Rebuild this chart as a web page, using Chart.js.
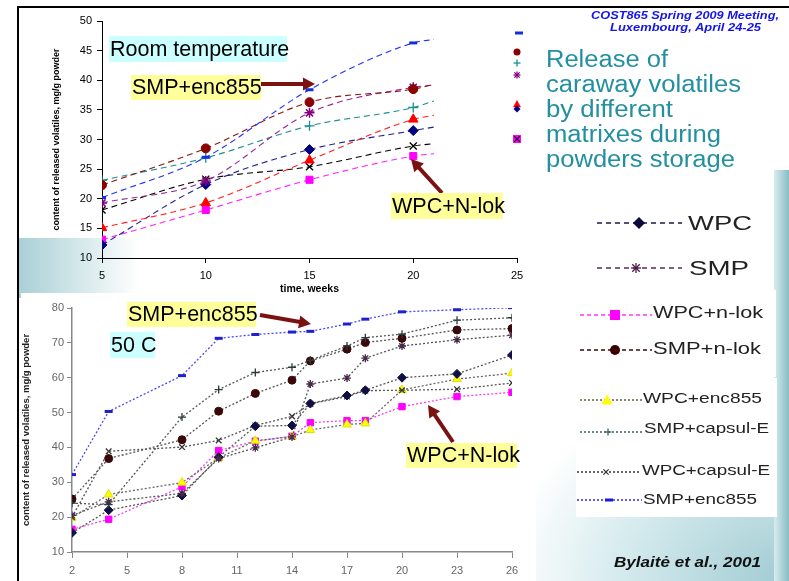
<!DOCTYPE html>
<html>
<head>
<meta charset="utf-8">
<script src="https://cdn.jsdelivr.net/npm/chart.js@4.4.0/dist/chart.umd.min.js"></script>
<style>
  body { margin: 0; width: 789px; height: 581px; position: relative; overflow: hidden; background: #fff;
         font-family: Arial, "Liberation Sans", sans-serif; }
  .abs { position: absolute; }
  .t { position: absolute; white-space: nowrap; transform-origin: 0 50%; }
  .box { position: absolute; white-space: nowrap; color: #000; font-size: 21.5px; padding-left: 1px; box-sizing: border-box; }
</style>
</head>
<body>
<!-- slide background bits -->
<div class="abs" style="left:19px;top:238px;width:120px;height:60px;background:linear-gradient(to right,#a9d0d5,rgba(255,255,255,0))"></div>
<div class="abs" style="left:520px;top:380px;width:269px;height:201px;background:radial-gradient(ellipse at 100% 100%,#9fcbd2 0%,#d6ebee 45%,rgba(255,255,255,0) 75%)"></div>
<div class="abs" style="left:774px;top:170px;width:15px;height:411px;background:linear-gradient(to right,#d8ecee,#86bcc4)"></div>
<div class="abs" style="left:576px;top:290px;width:200px;height:87px;background:#fff"></div>
<div class="abs" style="left:576px;top:378px;width:201px;height:139px;background:#fff"></div>

<div class="abs" style="left:21px;top:0;"><canvas id="roomChart" width="515" height="300"></canvas></div>
<div class="abs" style="left:21px;top:293px;background:#fff;"><canvas id="hotChart" width="515" height="288"></canvas></div>

<div class="abs" style="left:17px;top:6px;width:772px;height:2.3px;background:#000"></div>
<div class="abs" style="left:16.7px;top:6px;width:2.3px;height:575px;background:#000"></div>

<svg id="ov" class="abs" style="left:0;top:0" width="789" height="581"></svg>

<div class="box" style="left:109px;top:36px;width:178px;height:26px;line-height:26px;background:#ccffff">Room temperature</div>
<div class="box" style="left:131px;top:75px;width:130px;height:25px;line-height:25px;background:#ffff99">SMP+enc855</div>
<div class="box" style="left:391px;top:193px;width:112px;height:26px;line-height:26px;background:#ffff99">WPC+N-lok</div>
<div class="box" style="left:127px;top:302px;width:129px;height:25px;line-height:25px;background:#ffff99">SMP+enc855</div>
<div class="box" style="left:110px;top:332px;width:45px;height:26px;line-height:26px;background:#ccffff">50 C</div>
<div class="box" style="left:406px;top:443px;width:111px;height:25px;line-height:25px;background:#ffff99">WPC+N-lok</div>

<div id="texts"></div>

<script>
// ---- data ----
// room temperature; the last week is where the smoothed trend lines stop
const roomWeeks   = [5, 10, 15, 20, 21];
const roomSMPenc  = [20.2, 27.0, 38.4, 46.3, 46.9];
const roomSMPnlok = [22.3, 28.5, 36.3, 38.5, 39.3];
const roomSMPcaps = [23.1, 26.9, 32.3, 35.4, 36.5];
const roomSMP     = [19.3, 23.0, 34.5, 38.8, 39.2];
const roomWPCenc  = [15.1, 19.3, 26.5, 33.4, 34.1];
const roomWPC     = [12.2, 22.4, 28.3, 31.5, 32.1];
const roomWPCcaps = [18.1, 23.3, 25.4, 28.9, 29.3];
const roomWPCnlok = [13.1, 18.1, 23.2, 27.2, 27.6];
const roomXTicks  = [5, 10, 15, 20, 25];
const roomYTicks  = [10, 15, 20, 25, 30, 35, 40, 45, 50];

// 50 C
const hotWeeks   = [2, 4, 8, 10, 12, 14, 15, 17, 18, 20, 23, 26];
const hotSMPenc  = [32.2, 50.3, 60.6, 71.3, 72.4, 73.1, 73.3, 75.4, 76.8, 78.9, 79.5, 80.1];
const hotSMPcaps = [24.0, 23.6, 48.7, 56.6, 61.5, 63.0, 65.0, 69.1, 71.5, 72.5, 76.5, 77.2];
const hotSMPnlok = [25.2, 36.8, 42.2, 50.4, 55.5, 59.3, 64.8, 68.2, 70.1, 71.3, 73.7, 74.1];
const hotSMP     = [20.5, 24.4, 26.8, 36.8, 39.9, 43.0, 58.2, 59.9, 65.6, 69.1, 70.9, 72.2];
const hotWPCcaps = [20.0, 38.9, 40.1, 42.0, 46.3, 48.9, 52.5, 54.6, 56.3, 56.4, 56.7, 58.5];
const hotWPC     = [15.5, 22.0, 26.2, 37.2, 46.1, 46.3, 52.6, 54.9, 56.4, 60.0, 61.1, 66.5];
const hotWPCnlok = [16.5, 19.4, 28.7, 39.1, 41.8, 43.2, 47.1, 47.7, 47.7, 51.7, 54.6, 55.8];
const hotWPCenc  = [19.8, 26.5, 29.9, 37.0, 41.9, 43.1, 45.0, 46.6, 46.9, 56.5, 59.6, 61.3];
const hotXTicks  = [2, 5, 8, 11, 14, 17, 20, 23, 26];
const hotYTicks  = [10, 20, 30, 40, 50, 60, 70, 80];

Chart.defaults.font.family = 'Arial, "Liberation Sans", sans-serif';
Chart.defaults.animation = false;

function series(label, weeks, values, o) {
  return {
    label,
    data: weeks.map((w, i) => ({ x: w, y: values[i] })),
    borderColor: o.line,
    borderWidth: o.lw,
    borderDash: o.dash,
    pointStyle: o.shape,
    pointRadius: o.r,
    pointBorderColor: o.mark,
    pointBackgroundColor: o.fill || o.mark,
    pointBorderWidth: o.bw || 1,
    cubicInterpolationMode: o.smooth ? 'monotone' : 'default',
    tension: 0,
    fill: false
  };
}

// room temperature chart
const roomR = r => roomWeeks.map(w => (w > 20 ? 0 : r));
const rd = { lw: 1.1, dash: [6, 4], smooth: true };
new Chart(document.getElementById('roomChart').getContext('2d'), {
  type: 'line',
  data: {
    datasets: [
      series('SMP+enc855', roomWeeks, roomSMPenc, { ...rd, line: '#2030ff', mark: '#1030e0', shape: 'line', r: roomR(4), bw: 3 }),
      series('SMP+n-lok', roomWeeks, roomSMPnlok, { ...rd, line: '#8b1515', mark: '#8b0000', shape: 'circle', r: roomR(4.5) }),
      series('SMP', roomWeeks, roomSMP, { ...rd, line: '#952595', mark: '#800080', shape: 'star', r: roomR(5), bw: 1.5 }),
      series('SMP+capsul-E', roomWeeks, roomSMPcaps, { ...rd, line: '#1a9090', mark: '#1a9090', shape: 'cross', r: roomR(5), bw: 1.3 }),
      series('WPC+enc855', roomWeeks, roomWPCenc, { ...rd, line: '#ff2020', mark: '#ff0000', shape: 'triangle', r: roomR(5.5) }),
      series('WPC', roomWeeks, roomWPC, { ...rd, line: '#202095', mark: '#000080', shape: 'rectRot', r: roomR(5) }),
      series('WPC+capsul-E', roomWeeks, roomWPCcaps, { ...rd, line: '#000', mark: '#000', shape: 'crossRot', r: roomR(5), bw: 1.3 }),
      series('WPC+n-lok', roomWeeks, roomWPCnlok, { ...rd, line: '#ff20ff', mark: '#ff00ff', shape: 'rect', r: roomR(5) })
    ]
  },
  options: {
    responsive: false,
    layout: { padding: { top: 21, right: 19, left: 0, bottom: 0 } },
    plugins: { legend: { display: false }, tooltip: { enabled: false } },
    scales: {
      x: {
        type: 'linear', min: 5, max: 25,
        afterBuildTicks: s => { s.ticks = roomXTicks.map(v => ({ value: v })); },
        afterFit: s => { s.height = 42; },
        ticks: { color: '#000', font: { size: 11 }, padding: 6 },
        grid: { drawOnChartArea: false, tickLength: 5, color: '#000' },
        border: { color: '#000' },
        title: { display: true, text: 'time, weeks', color: '#000', font: { size: 10.5, weight: 'bold' }, padding: { top: 0, bottom: 5 } }
      },
      y: {
        min: 10, max: 50,
        afterBuildTicks: s => { s.ticks = roomYTicks.map(v => ({ value: v })); },
        afterFit: s => { s.width = 81; },
        ticks: { color: '#000', font: { size: 11 }, padding: 5 },
        grid: { drawOnChartArea: false, tickLength: 5, color: '#000' },
        border: { color: '#000' },
        title: { display: true, text: 'content of released volatiles, mg/g powder', color: '#000', font: { size: 9, weight: 'bold' }, padding: { top: 30, bottom: 0 } }
      }
    }
  }
});

// 50 C chart
const hd = { lw: 1.3, dash: [2, 2], line: '#555' };
new Chart(document.getElementById('hotChart').getContext('2d'), {
  type: 'line',
  data: {
    datasets: [
      series('SMP+enc855', hotWeeks, hotSMPenc, { ...hd, line: '#4b4bf0', mark: '#2020d0', shape: 'line', r: 4, bw: 3 }),
      series('SMP+capsul-E', hotWeeks, hotSMPcaps, { ...hd, mark: '#2a3a3a', shape: 'cross', r: 4, bw: 1.3 }),
      series('SMP+n-lok', hotWeeks, hotSMPnlok, { ...hd, mark: '#3a0808', shape: 'circle', r: 4 }),
      series('SMP', hotWeeks, hotSMP, { ...hd, mark: '#4a2a4a', shape: 'star', r: 4, bw: 1.3 }),
      series('WPC', hotWeeks, hotWPC, { ...hd, mark: '#101040', shape: 'rectRot', r: 4.5 }),
      series('WPC+capsul-E', hotWeeks, hotWPCcaps, { ...hd, mark: '#333', shape: 'crossRot', r: 4, bw: 1.3 }),
      series('WPC+enc855', hotWeeks, hotWPCenc, { ...hd, line: '#666', mark: '#e0e000', fill: '#ffff00', shape: 'triangle', r: 5 }),
      series('WPC+n-lok', hotWeeks, hotWPCnlok, { ...hd, line: '#f040f0', mark: '#ff00ff', shape: 'rect', r: 4.5 })
    ]
  },
  options: {
    responsive: false,
    layout: { padding: { top: 15, right: 24, left: 0, bottom: 0 } },
    plugins: { legend: { display: false }, tooltip: { enabled: false } },
    scales: {
      x: {
        type: 'linear', min: 2, max: 26,
        afterBuildTicks: s => { s.ticks = hotXTicks.map(v => ({ value: v })); },
        afterFit: s => { s.height = 29; },
        ticks: { color: '#666', font: { size: 11 }, padding: 6 },
        grid: { drawOnChartArea: false, tickLength: 6, color: '#888' },
        border: { color: '#888', width: 1.5 }
      },
      y: {
        min: 10, max: 80,
        afterBuildTicks: s => { s.ticks = hotYTicks.map(v => ({ value: v })); },
        afterFit: s => { s.width = 51; },
        ticks: { color: '#666', font: { size: 11 }, padding: 3 },
        grid: { drawOnChartArea: false, tickLength: 5, color: '#888' },
        border: { color: '#888', width: 1.5 },
        title: { display: true, text: 'content of released volatiles, mg/g powder', color: '#222', font: { size: 9.5, weight: 'bold' }, padding: { top: 0, bottom: 0 } }
      }
    }
  }
});

// ---- overlay: arrows, legend samples ----
const NS = 'http://www.w3.org/2000/svg';
const ov = document.getElementById('ov');
function el(tag, attrs) {
  const e = document.createElementNS(NS, tag);
  for (const k in attrs) e.setAttribute(k, attrs[k]);
  ov.appendChild(e);
  return e;
}
function arrow(x1, y1, x2, y2) {
  const dx = x2 - x1, dy = y2 - y1, len = Math.hypot(dx, dy), ux = dx / len, uy = dy / len;
  const head = 12, half = 6.5;
  const bx = x2 - ux * head, by = y2 - uy * head;
  el('line', { x1, y1, x2: bx + ux, y2: by + uy, stroke: '#7a1212', 'stroke-width': 4 });
  el('polygon', { points: `${x2},${y2} ${bx - uy * half},${by + ux * half} ${bx + uy * half},${by - ux * half}`, fill: '#7a1212' });
}
arrow(261, 84, 315, 84);
arrow(442, 193, 411, 159);
arrow(260, 315, 311, 324);
arrow(453, 442, 428, 405);

function marker(shape, x, y, s, col, fill) {
  if (shape === 'diamond') el('polygon', { points: `${x},${y - s} ${x + s},${y} ${x},${y + s} ${x - s},${y}`, fill: col });
  if (shape === 'square') el('rect', { x: x - s, y: y - s, width: 2 * s, height: 2 * s, fill: col });
  if (shape === 'circle') el('circle', { cx: x, cy: y, r: s, fill: col });
  if (shape === 'triangle') el('polygon', { points: `${x},${y - s} ${x + s},${y + s * 0.8} ${x - s},${y + s * 0.8}`, fill: fill || col });
  if (shape === 'dash') el('rect', { x: x - s, y: y - 1.5, width: 2 * s, height: 3, fill: col });
  if (shape === 'plus' || shape === 'star') {
    el('line', { x1: x - s, y1: y, x2: x + s, y2: y, stroke: col, 'stroke-width': 1.3 });
    el('line', { x1: x, y1: y - s, x2: x, y2: y + s, stroke: col, 'stroke-width': 1.3 });
  }
  if (shape === 'x' || shape === 'star') {
    const d = s * 0.75;
    el('line', { x1: x - d, y1: y - d, x2: x + d, y2: y + d, stroke: col, 'stroke-width': 1.3 });
    el('line', { x1: x - d, y1: y + d, x2: x + d, y2: y - d, stroke: col, 'stroke-width': 1.3 });
  }
}
function sample(x1, x2, y, col, dash, shape, mx, s, mcol, fill) {
  el('line', { x1, y1: y, x2, y2: y, stroke: col, 'stroke-width': 1.3, 'stroke-dasharray': dash });
  marker(shape, mx, y, s, mcol, fill);
}
// room temperature legend remnants
marker('dash', 519, 33, 4, '#1030e0');
marker('circle', 517, 52, 3.5, '#8b0000');
marker('plus', 517, 63, 3.5, '#1a9090');
marker('star', 517, 75, 3.5, '#800080');
marker('triangle', 517, 104, 4, '#ff0000');
marker('diamond', 517, 109, 3.5, '#000080');
marker('square', 517, 139, 4, '#ff00ff');
marker('x', 517, 139, 3.5, '#000');
// 50 C legend
sample(597, 682, 223, '#1a1a4a', '5,4', 'diamond', 639, 6, '#0a0a3a');
sample(597, 682, 268, '#5a2a5a', '5,4', 'star', 636, 5, '#4a1a4a');
sample(580, 652, 315, '#ff33ff', '4,3', 'square', 615, 5, '#ff00ff');
sample(580, 652, 350, '#3a0a0a', '4,3', 'circle', 615, 5, '#3a0000');
sample(580, 642, 400, '#666633', '2,2', 'triangle', 607, 5.5, '#e0e000', '#ffff00');
sample(580, 643, 432, '#336666', '2,2', 'plus', 608, 3.5, '#336666');
sample(577, 641, 472, '#333', '2,2', 'x', 606, 3.5, '#333');
sample(577, 642, 500, '#2a2af0', '2,2', 'dash', 609, 4, '#1a1ae0');

// ---- slide texts, each stretched to the width it has on the slide ----
const texts = [
  ['COST865 Spring 2009 Meeting,', 591, 15, 'bold italic 11.5px', '#1515e6', 188],
  ['Luxembourg, April 24-25', 610, 27, 'bold italic 11.5px', '#1515e6', 151],
  ['Release of', 546, 58.5, '23px', '#22909f', 122],
  ['caraway volatiles', 546, 83.5, '23px', '#22909f', 195],
  ['by different', 546, 108.5, '23px', '#22909f', 127],
  ['matrixes during', 546, 133.5, '23px', '#22909f', 175],
  ['powders storage', 546, 158.5, '23px', '#22909f', 189],
  ['WPC', 688, 223, '20px', '#222', 64],
  ['SMP', 689, 268, '20px', '#222', 60],
  ['WPC+n-lok', 653, 313, '17px', '#222', 110],
  ['SMP+n-lok', 653, 349, '17px', '#222', 108],
  ['WPC+enc855', 643, 398, '15.5px', '#222', 119],
  ['SMP+capsul-E', 644, 428, '15.5px', '#222', 125],
  ['WPC+capsul-E', 642, 470, '15.5px', '#222', 128],
  ['SMP+enc855', 643, 499, '15.5px', '#222', 114],
  ['Bylaitė et al., 2001', 614, 562, 'bold italic 15px', '#111', 147]
];
const holder = document.getElementById('texts');
texts.forEach(([s, x, cy, font, color, w]) => {
  const d = document.createElement('div');
  d.className = 't';
  d.textContent = s;
  d.style.font = font + ' Arial, "Liberation Sans", sans-serif';
  d.style.lineHeight = '26px';
  d.style.left = x + 'px';
  d.style.top = (cy - 13) + 'px';
  d.style.color = color;
  holder.appendChild(d);
  const real = d.getBoundingClientRect().width;
  d.style.transform = `scaleX(${w / real})`;
});
</script>
</body>
</html>
